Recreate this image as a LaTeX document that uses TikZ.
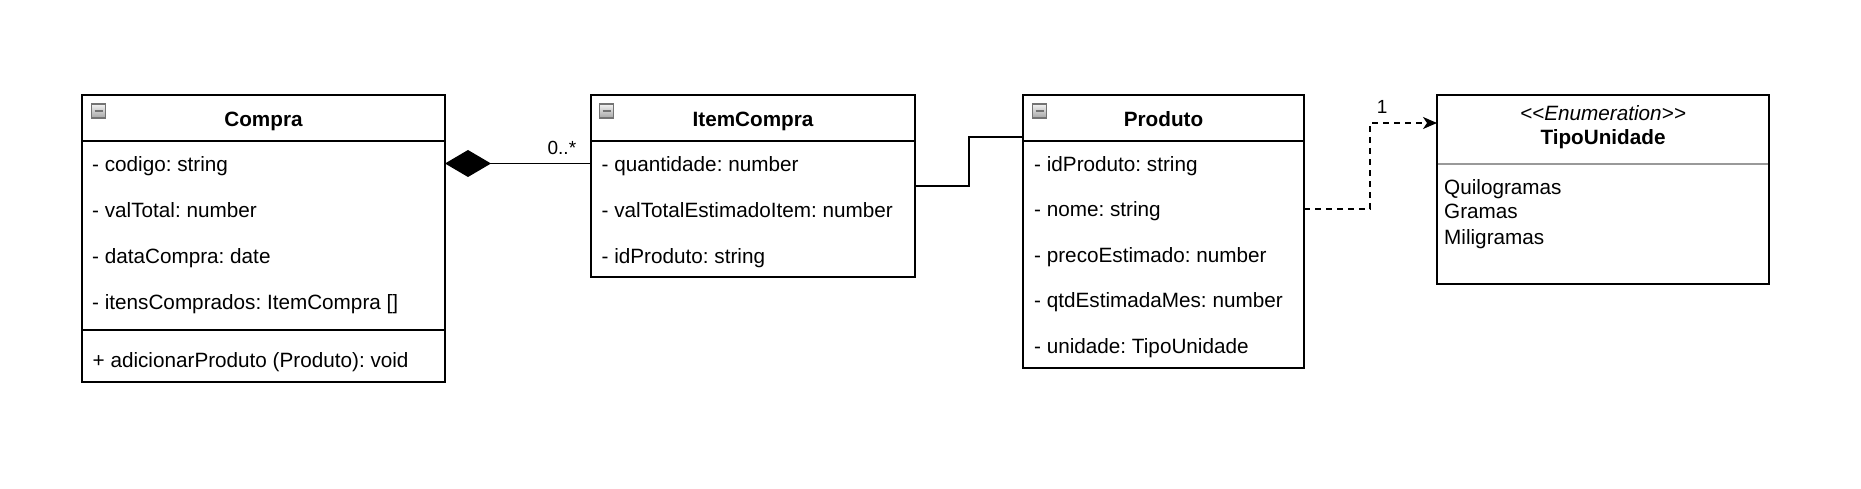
\documentclass[tikz,border=0pt]{standalone}
\usepackage{fontspec}
\setmainfont{Liberation Sans}
\usetikzlibrary{arrows.meta, positioning}
\frenchspacing

\tikzset{
    classbox/.style={draw, line width=1.7pt, outer sep=0pt, inner sep=0pt},
    classhead/.style={classbox, minimum height=46pt, font=\bfseries\fontsize{20.7}{25}\selectfont, text height=22pt, text depth=4pt},
    members/.style={inner sep=0pt, align=left, font=\fontsize{20.7}{46}\selectfont},
    mult/.style={inner sep=0pt, font=\fontsize{19}{23}\selectfont},
    minbtn/.style={draw=black!55, line width=1.2pt, minimum size=14pt, inner sep=0pt, top color=black!5, bottom color=black!35,
        path picture={\draw[line width=2.2pt] ([xshift=3pt]path picture bounding box.west) -- ([xshift=-3pt]path picture bounding box.east);}},
    assoc/.style={line width=1.7pt},
    dep/.style={line width=1.7pt, dash pattern=on 6pt off 5pt}
}

\begin{document}
\begin{tikzpicture}[x=1pt, y=-1pt]
    \path[use as bounding box, fill=white] (0,0) rectangle (1861,489);

    % Compra
    \node[classhead, minimum width=363pt, anchor=north west] (compraHead) at (82,95) {Compra};
    \node[classbox, minimum width=363pt, minimum height=189pt, below=0pt of compraHead] (compraAttr) {};
    \node[classbox, minimum width=363pt, minimum height=52pt, below=0pt of compraAttr] (compraMeth) {};
    \node[minbtn] (compraBtn) at ([xshift=16.5pt, yshift=-16pt]compraHead.north west) {};
    \node[members, anchor=base west] (compraAttrText) at ([xshift=10pt, yshift=-168pt]compraAttr.north west)
        {- codigo: string\\- valTotal: number\\- dataCompra: date\\- itensComprados: ItemCompra []};
    \node[members, anchor=base west] (compraMethText) at ([xshift=10.5pt, yshift=-37pt]compraMeth.north west)
        {+ adicionarProduto (Produto): void};

    % ItemCompra
    \node[classhead, minimum width=324pt, anchor=north west] (itemHead) at (591,95) {ItemCompra};
    \node[classbox, minimum width=324pt, minimum height=136pt, below=0pt of itemHead] (itemAttr) {};
    \node[minbtn] (itemBtn) at ([xshift=15.5pt, yshift=-16pt]itemHead.north west) {};
    \node[members, anchor=base west] (itemAttrText) at ([xshift=10.5pt, yshift=-122pt]itemAttr.north west)
        {- quantidade: number\\- valTotalEstimadoItem: number\\- idProduto: string};

    % Produto
    \node[classhead, minimum width=281pt, anchor=north west] (produtoHead) at (1023,95) {Produto};
    \node[classbox, minimum width=281pt, minimum height=227pt, below=0pt of produtoHead] (produtoAttr) {};
    \node[minbtn] (produtoBtn) at ([xshift=16.5pt, yshift=-16pt]produtoHead.north west) {};
    \node[members, font=\fontsize{20.7}{45.5}\selectfont, anchor=base west] (produtoAttrText) at ([xshift=11pt, yshift=-212pt]produtoAttr.north west)
        {- idProduto: string\\- nome: string\\- precoEstimado: number\\- qtdEstimadaMes: number\\- unidade: TipoUnidade};

    % TipoUnidade
    \node[classbox, minimum width=332pt, minimum height=189pt, anchor=north west] (tipoBox) at (1437,95) {};
    \draw[line width=1.7pt, black!40] ([xshift=0.9pt, yshift=-69pt]tipoBox.north west) -- ([xshift=-0.9pt, yshift=-69pt]tipoBox.north east);
    \node[members, align=center, font=\fontsize{20.7}{24.5}\selectfont, anchor=base] (tipoTitle) at ([yshift=-50pt]tipoBox.north)
        {\textit{<\kern0pt<Enumeration>\kern0pt>}\\\textbf{TipoUnidade}};
    \node[members, font=\fontsize{20.7}{25}\selectfont, anchor=base west] (tipoItems) at ([xshift=7pt, yshift=-149pt]tipoBox.north west)
        {Quilogramas\\Gramas\\Miligramas};

    % connectors
    \draw[assoc, -{Diamond[length=46pt, width=27pt]}] ([yshift=-22.5pt]itemAttr.north west)
        -- node[mult, pos=0, anchor=base east, xshift=-14pt, yshift=9pt] (multItem) {0..*} ([yshift=-22.5pt]compraAttr.north east);
    \draw[assoc] ([yshift=-45pt]itemAttr.north east) -- ++(54,0) |- ([yshift=-42pt]produtoHead.north west);
    \draw[dep, -{Stealth[length=14pt, width=12pt, inset=4pt]}] ([yshift=-68pt]produtoAttr.north east) -- ++(66,0)
        |- node[mult, pos=0.5, anchor=base west, xshift=6pt, yshift=9pt] (multTipo) {1} ([yshift=-28pt]tipoBox.north west);
\end{tikzpicture}
\end{document}
